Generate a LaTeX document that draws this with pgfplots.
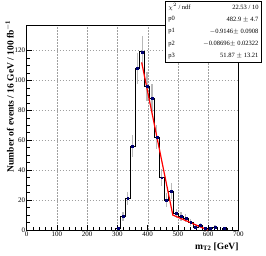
\documentclass[border=0pt]{standalone}
\usepackage{pgfplots}
\pgfplotsset{compat=1.18}
\usepackage{fontspec}
\setmainfont{Liberation Serif}
\begin{document}
\begin{tikzpicture}
\useasboundingbox (-26.7pt,-26pt) rectangle (239.3pt,230pt);
\begin{axis}[
  scale only axis, width=211.8pt, height=205pt,
  at={(0,0)}, anchor=south west,
  xmin=0, xmax=700, ymin=0, ymax=137,
  xtick={0,100,...,700}, ytick={0,20,...,120},
  minor x tick num=4, minor y tick num=3,
  tick align=inside, xtick pos=bottom, ytick pos=left,
  major tick length=5pt, minor tick length=3pt,
  tick style={black, line width=0.5pt},
  axis line style={black, line width=0.8pt},
  grid=major,
  major grid style={gray!75, dash pattern=on 1.5pt off 1.5pt, line width=0.4pt},
  /pgf/number format/assume math mode=true,
  ticklabel style={font=\fontsize{7}{8}\selectfont},
  xticklabel style={yshift=2pt},
  yticklabel style={xshift=2pt},
  clip=false,
]
% error bars
\addplot[draw=none, mark=none,
  error bars/.cd, y dir=both, y explicit,
  error bar style={gray!55, line width=1.3pt}, error mark=none]
  table[x=x, y=y, y error=e] {
x y e
302 1 1
318 9 3
334 21 4.6
350 56 7.5
366 108 10.4
382 119 10.9
398 96 9.8
414 88 9.4
430 62 7.9
446 35 5.9
462 20 4.5
478 26 5.1
494 11 3.3
510 9 3
526 8 2.8
542 5 2.2
558 2 1.4
574 3 1.7
590 1 1
606 1 1
622 2 1.4
654 1 1
};
% histogram
\addplot[const plot, black, line width=0.9pt, mark=none] coordinates {
(278,0) (294,1) (310,9) (326,21) (342,56) (358,108) (374,119) (390,96)
(406,88) (422,62) (438,35) (454,20) (470,26) (486,11) (502,9) (518,8)
(534,5) (550,2) (566,3) (582,1) (598,1) (614,2) (630,0) (646,1) (662,0) (678,0)
};
% markers
\addplot[only marks, mark=square*, mark size=0.9pt, color=blue!45!black] coordinates {
(302,1) (318,9) (334,21) (350,56) (366,108) (382,119) (398,96) (414,88)
(430,62) (446,35) (462,20) (478,26) (494,11) (510,9) (526,8) (542,5)
(558,2) (574,3) (590,1) (606,1) (622,2) (654,1)
};
% fit
\addplot[red, line width=1.2pt, mark=none] coordinates {
(380,112) (482.9,10) (598,0)
};
\end{axis}
% axis titles
\node[rotate=90, anchor=south east, inner sep=0pt, font=\bfseries\fontsize{9.5}{11}\selectfont]
  at (-12.7pt,210pt) {Number of events / 16 GeV / 100 fb\textsuperscript{$-$1}};
\node[anchor=north east, inner sep=0pt, font=\bfseries\fontsize{9.5}{11}\selectfont]
  at (212pt,-12.5pt) {m\textsubscript{T2} [GeV]};
% stats box
\draw[black, line width=0.6pt, fill=white] (138.3pt,168pt) rectangle (235pt,229pt);
\foreach \lab/\val [count=\i from 0] in {{$\chi^{2}$ / ndf}/{22.53 / 10},{p0}/{482.9 $\pm$ 4.7},{p1}/{$-$0.9146$\pm$ 0.0908},{p2}/{$-$0.08696$\pm$ 0.02322},{p3}/{51.87 $\pm$ 13.21}} {
  \node[anchor=west, inner sep=0pt, font=\fontsize{6.5}{7}\selectfont] at (141.5pt,{229pt-12.2pt*(\i+0.5)}) {\lab};
  \node[anchor=east, inner sep=0pt, font=\fontsize{6.5}{7}\selectfont] at (232pt,{229pt-12.2pt*(\i+0.5)}) {\val};
}
\end{tikzpicture}
\end{document}
